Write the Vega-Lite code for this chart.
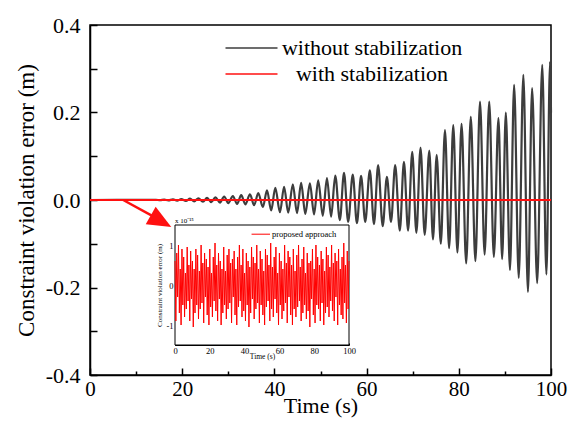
{
  "$schema": "https://vega.github.io/schema/vega-lite/v6.json",
  "width": 461,
  "height": 350,
  "autosize": "none",
  "padding": {"left": 90, "top": 25, "right": 18, "bottom": 46},
  "background": "white",
  "datasets": {
    "unstab": [
      {"t":0,"v":0},{"t":14.3,"v":0.0005},{"t":15.2,"v":-0.0005},{"t":16.1,"v":0.001},{"t":17.0,"v":-0.001},
      {"t":18.0,"v":0.0015},{"t":18.9,"v":-0.0015},{"t":19.8,"v":0.002},{"t":20.8,"v":-0.002},{"t":21.7,"v":0.003},
      {"t":22.6,"v":-0.003},{"t":23.5,"v":0.004},{"t":24.5,"v":-0.004},{"t":25.4,"v":0.005},{"t":26.3,"v":-0.005},
      {"t":27.2,"v":0.006},{"t":28.2,"v":-0.006},{"t":29.1,"v":0.008},{"t":30.0,"v":-0.007},{"t":31.0,"v":0.009},
      {"t":31.9,"v":-0.009},{"t":32.8,"v":0.011},{"t":33.7,"v":-0.01},{"t":34.7,"v":0.013},{"t":35.6,"v":-0.012},
      {"t":36.5,"v":0.016},{"t":37.5,"v":-0.016},{"t":38.4,"v":0.022},{"t":39.3,"v":-0.024},{"t":40.2,"v":0.028},
      {"t":41.2,"v":-0.028},{"t":42.1,"v":0.03},{"t":43.0,"v":-0.029},{"t":44.0,"v":0.036},{"t":44.9,"v":-0.03},
      {"t":45.8,"v":0.039},{"t":46.7,"v":-0.032},{"t":47.7,"v":0.038},{"t":48.6,"v":-0.033},{"t":49.5,"v":0.045},
      {"t":50.5,"v":-0.036},{"t":51.4,"v":0.05},{"t":52.3,"v":-0.038},{"t":53.2,"v":0.056},{"t":54.2,"v":-0.046},
      {"t":55.1,"v":0.062},{"t":56.0,"v":-0.05},{"t":57.0,"v":0.058},{"t":57.9,"v":-0.053},{"t":58.8,"v":0.055},
      {"t":59.7,"v":-0.05},{"t":60.7,"v":0.068},{"t":61.6,"v":-0.055},{"t":62.5,"v":0.08},{"t":63.5,"v":-0.06},
      {"t":64.4,"v":0.053},{"t":65.3,"v":-0.05},{"t":66.2,"v":0.08},{"t":67.2,"v":-0.07},{"t":68.1,"v":0.087},
      {"t":69.0,"v":-0.07},{"t":69.9,"v":0.11},{"t":70.8,"v":-0.075},{"t":71.7,"v":0.12},{"t":72.6,"v":-0.08},
      {"t":73.6,"v":0.113},{"t":74.4,"v":-0.09},{"t":75.2,"v":0.103},{"t":76.1,"v":-0.1},{"t":77.0,"v":0.16},
      {"t":77.9,"v":-0.11},{"t":78.8,"v":0.171},{"t":79.7,"v":-0.12},{"t":80.6,"v":0.174},{"t":81.6,"v":-0.145},
      {"t":82.6,"v":0.19},{"t":83.6,"v":-0.14},{"t":84.6,"v":0.225},{"t":85.6,"v":-0.125},{"t":86.6,"v":0.225},
      {"t":87.6,"v":-0.13},{"t":88.6,"v":0.187},{"t":89.4,"v":-0.135},{"t":90.2,"v":0.2},{"t":91.1,"v":-0.16},
      {"t":92.0,"v":0.263},{"t":93.0,"v":-0.178},{"t":94.0,"v":0.286},{"t":95.0,"v":-0.21},{"t":95.9,"v":0.256},
      {"t":97.0,"v":-0.19},{"t":98.1,"v":0.309},{"t":99.0,"v":-0.17},{"t":99.8,"v":0.316},{"t":100,"v":0.2}
    ],
    "stab": [{"t":0,"v":0},{"t":100,"v":0}],
    "noise": [
      {"t":0,"e":0.6},{"t":0.5,"e":-0.9},{"t":1,"e":0.8},{"t":1.5,"e":-0.3},{"t":2,"e":1.0},{"t":2.5,"e":-0.7},{"t":3,"e":0.4},{"t":3.5,"e":-1.0},{"t":4,"e":0.9},{"t":4.5,"e":-0.5},
      {"t":5,"e":0.7},{"t":5.5,"e":-0.8},{"t":6,"e":0.3},{"t":6.5,"e":-0.6},{"t":7,"e":0.95},{"t":7.5,"e":-0.4},{"t":8,"e":0.5},{"t":8.5,"e":-0.9},{"t":9,"e":0.85},{"t":9.5,"e":-0.35},
      {"t":10,"e":0.6},{"t":10.5,"e":-1.05},{"t":11,"e":0.4},{"t":11.5,"e":-0.7},{"t":12,"e":0.9},{"t":12.5,"e":-0.5},{"t":13,"e":0.75},{"t":13.5,"e":-0.85},{"t":14,"e":0.35},{"t":14.5,"e":-0.6},
      {"t":15,"e":1.0},{"t":15.5,"e":-0.45},{"t":16,"e":0.55},{"t":16.5,"e":-0.95},{"t":17,"e":0.8},{"t":17.5,"e":-0.3},{"t":18,"e":0.65},{"t":18.5,"e":-0.75},{"t":19,"e":0.45},{"t":19.5,"e":-1.0},
      {"t":20,"e":0.9},{"t":20.5,"e":-0.55},{"t":21,"e":0.3},{"t":21.5,"e":-0.8},{"t":22,"e":0.7},{"t":22.5,"e":-0.4},{"t":23,"e":1.05},{"t":23.5,"e":-0.65},{"t":24,"e":0.5},{"t":24.5,"e":-0.9},
      {"t":25,"e":0.8},{"t":25.5,"e":-0.35},{"t":26,"e":0.6},{"t":26.5,"e":-1.0},{"t":27,"e":0.4},{"t":27.5,"e":-0.7},{"t":28,"e":0.95},{"t":28.5,"e":-0.5},{"t":29,"e":0.35},{"t":29.5,"e":-0.85},
      {"t":30,"e":0.75},{"t":30.5,"e":-0.6},{"t":31,"e":0.9},{"t":31.5,"e":-0.45},{"t":32,"e":0.55},{"t":32.5,"e":-0.95},{"t":33,"e":0.65},{"t":33.5,"e":-0.3},{"t":34,"e":0.85},{"t":34.5,"e":-0.75},
      {"t":35,"e":0.4},{"t":35.5,"e":-1.0},{"t":36,"e":0.7},{"t":36.5,"e":-0.55},{"t":37,"e":1.0},{"t":37.5,"e":-0.4},{"t":38,"e":0.5},{"t":38.5,"e":-0.8},{"t":39,"e":0.9},{"t":39.5,"e":-0.65},
      {"t":40,"e":0.3},{"t":40.5,"e":-0.9},{"t":41,"e":0.8},{"t":41.5,"e":-0.5},{"t":42,"e":0.6},{"t":42.5,"e":-1.05},{"t":43,"e":0.45},{"t":43.5,"e":-0.7},{"t":44,"e":0.95},{"t":44.5,"e":-0.35},
      {"t":45,"e":0.7},{"t":45.5,"e":-0.85},{"t":46,"e":0.55},{"t":46.5,"e":-0.6},{"t":47,"e":1.0},{"t":47.5,"e":-0.45},{"t":48,"e":0.4},{"t":48.5,"e":-0.95},{"t":49,"e":0.85},{"t":49.5,"e":-0.5},
      {"t":50,"e":0.65},{"t":50.5,"e":-0.75},{"t":51,"e":0.35},{"t":51.5,"e":-1.0},{"t":52,"e":0.9},{"t":52.5,"e":-0.55},{"t":53,"e":0.75},{"t":53.5,"e":-0.4},{"t":54,"e":0.5},{"t":54.5,"e":-0.9},
      {"t":55,"e":1.05},{"t":55.5,"e":-0.6},{"t":56,"e":0.45},{"t":56.5,"e":-0.8},{"t":57,"e":0.7},{"t":57.5,"e":-0.35},{"t":58,"e":0.95},{"t":58.5,"e":-0.7},{"t":59,"e":0.3},{"t":59.5,"e":-1.0},
      {"t":60,"e":0.8},{"t":60.5,"e":-0.5},{"t":61,"e":0.6},{"t":61.5,"e":-0.85},{"t":62,"e":0.4},{"t":62.5,"e":-0.65},{"t":63,"e":1.0},{"t":63.5,"e":-0.45},{"t":64,"e":0.55},{"t":64.5,"e":-0.95},
      {"t":65,"e":0.85},{"t":65.5,"e":-0.3},{"t":66,"e":0.7},{"t":66.5,"e":-0.75},{"t":67,"e":0.5},{"t":67.5,"e":-1.0},{"t":68,"e":0.9},{"t":68.5,"e":-0.6},{"t":69,"e":0.35},{"t":69.5,"e":-0.8},
      {"t":70,"e":0.75},{"t":70.5,"e":-0.55},{"t":71,"e":1.0},{"t":71.5,"e":-0.4},{"t":72,"e":0.45},{"t":72.5,"e":-0.9},{"t":73,"e":0.65},{"t":73.5,"e":-0.7},{"t":74,"e":0.95},{"t":74.5,"e":-0.5},
      {"t":75,"e":0.3},{"t":75.5,"e":-0.85},{"t":76,"e":0.8},{"t":76.5,"e":-0.65},{"t":77,"e":0.55},{"t":77.5,"e":-1.05},{"t":78,"e":0.6},{"t":78.5,"e":-0.35},{"t":79,"e":0.9},{"t":79.5,"e":-0.75},
      {"t":80,"e":0.4},{"t":80.5,"e":-0.95},{"t":81,"e":1.0},{"t":81.5,"e":-0.5},{"t":82,"e":0.7},{"t":82.5,"e":-0.6},{"t":83,"e":0.5},{"t":83.5,"e":-0.9},{"t":84,"e":0.85},{"t":84.5,"e":-0.45},
      {"t":85,"e":0.65},{"t":85.5,"e":-1.0},{"t":86,"e":0.35},{"t":86.5,"e":-0.7},{"t":87,"e":0.95},{"t":87.5,"e":-0.55},{"t":88,"e":0.75},{"t":88.5,"e":-0.8},{"t":89,"e":0.45},{"t":89.5,"e":-0.4},
      {"t":90,"e":1.0},{"t":90.5,"e":-0.65},{"t":91,"e":0.55},{"t":91.5,"e":-0.9},{"t":92,"e":0.8},{"t":92.5,"e":-0.3},{"t":93,"e":0.6},{"t":93.5,"e":-1.0},{"t":94,"e":0.9},{"t":94.5,"e":-0.5},
      {"t":95,"e":0.4},{"t":95.5,"e":-0.75},{"t":96,"e":0.7},{"t":96.5,"e":-0.85},{"t":97,"e":1.05},{"t":97.5,"e":-0.45},{"t":98,"e":0.5},{"t":98.5,"e":-0.95},{"t":99,"e":0.85},{"t":99.5,"e":-0.6},
      {"t":100,"e":0.6}
    ]
  },
  "layer": [
    {
      "layer": [
        {
          "data": {"name": "unstab"},
          "mark": {"type": "line", "interpolate": "monotone", "strokeWidth": 2.2},
          "encoding": {
            "x": {
              "field": "t", "type": "quantitative",
              "scale": {"domain": [0, 100], "nice": false},
              "axis": {
                "orient": "bottom",
                "title": "Time (s)",
                "values": [0,10,20,30,40,50,60,70,80,90,100],
                "labelExpr": "datum.value % 20 == 0 ? datum.label : ''",
                "labelFlush": false,
                "tickSize": {"condition": {"test": "datum.value % 20 == 0", "value": -7}, "value": -4},
                "tickWidth": 1.5,
                "labelPadding": 10,
                "labelFontSize": 21,
                "titleFontSize": 22,
                "titlePadding": -4,
                "domainWidth": 1.5
              }
            },
            "y": {
              "field": "v", "type": "quantitative",
              "scale": {"domain": [-0.4, 0.4], "nice": false},
              "axis": {
                "orient": "left",
                "title": "Constraint violation error (m)",
                "values": [-0.4,-0.3,-0.2,-0.1,0,0.1,0.2,0.3,0.4],
                "labelExpr": "abs(round(datum.value*10)) % 2 == 0 ? replace(format(datum.value, '.1f'), '\u2212', '-') : ''",
                "labelFlush": false,
                "tickSize": -7,
                "tickWidth": 1.5,
                "labelPadding": 17,
                "labelFontSize": 22,
                "titleFontSize": 23,
                "titlePadding": 7,
                "domainWidth": 1.5
              }
            },
            "color": {
              "datum": "without stabilization",
              "type": "nominal",
              "scale": {"domain": ["without stabilization", "with stabilization"], "range": ["#3d3d3d", "#ff1010"]},
              "legend": {
                "orient": "none", "legendX": 150.5, "legendY": 12,
                "title": null,
                "symbolType": "M-4,0H4", "symbolSize": 169, "symbolStrokeWidth": 1.5,
                "labelFont": "Liberation Serif", "labelFontSize": 22, "labelColor": "black",
                "labelAlign": "center", "labelLimit": 500,
                "labelOffset": 109.5, "rowPadding": 4
              }
            }
          }
        },
        {
          "data": {"name": "stab"},
          "mark": {"type": "line", "strokeWidth": 1.8},
          "encoding": {
            "x": {"field": "t", "type": "quantitative"},
            "y": {"field": "v", "type": "quantitative"},
            "color": {"datum": "with stabilization", "type": "nominal"}
          }
        },
        {
          "data": {"values": [{}]},
          "mark": {"type": "rule", "color": "#ff1010", "strokeWidth": 2.5},
          "encoding": {
            "x": {"datum": 7.2, "type": "quantitative"},
            "y": {"datum": 0, "type": "quantitative"},
            "x2": {"datum": 14.0},
            "y2": {"datum": -0.039}
          }
        },
        {
          "data": {"values": [{}]},
          "mark": {"type": "point", "shape": "M1,0L-1,-0.85L-1,0.85Z", "filled": true, "color": "#ff1010", "size": 560, "angle": 29.5, "opacity": 1, "strokeWidth": 0},
          "encoding": {
            "x": {"datum": 15.4, "type": "quantitative"},
            "y": {"datum": -0.0485, "type": "quantitative"}
          }
        }
      ]
    },
    {
      "layer": [
        {
          "data": {"values": [{}]},
          "mark": {"type": "rect", "fill": "white", "stroke": "black", "strokeWidth": 1},
          "encoding": {
            "x": {
              "datum": 0, "type": "quantitative",
              "scale": {"domain": [0, 100], "range": [85, 259], "nice": false},
              "axis": {
                "orient": "bottom", "offset": -30,
                "title": "Time (s)",
                "values": [0,10,20,30,40,50,60,70,80,90,100],
                "labelExpr": "datum.value % 20 == 0 ? datum.label : ''",
                "labelFlush": false,
                "tickSize": -2, "tickWidth": 1,
                "labelPadding": 3,
                "labelFontSize": 8.5,
                "titleFontSize": 7.5,
                "titlePadding": -2,
                "domainWidth": 1
              }
            },
            "x2": {"datum": 100},
            "y": {
              "datum": -1.5, "type": "quantitative",
              "scale": {"domain": [-1.5, 1.5], "range": [320, 200], "nice": false},
              "axis": {
                "orient": "left", "offset": -85,
                "title": "Constraint violation error (m)",
                "values": [-1, 0, 1],
                "labelExpr": "replace(format(datum.value, 'd'), '\u2212', '-')",
                "labelFlush": false,
                "tickSize": -2, "tickWidth": 1,
                "labelPadding": 4,
                "labelFontSize": 8.5,
                "titleFontSize": 7,
                "titlePadding": 3,
                "domainWidth": 1
              }
            },
            "y2": {"datum": 1.5}
          }
        },
        {
          "data": {"name": "noise"},
          "mark": {"type": "line", "color": "#ff0000", "strokeWidth": 1},
          "encoding": {
            "x": {"field": "t", "type": "quantitative"},
            "y": {"field": "e", "type": "quantitative"}
          }
        },
        {
          "data": {"values": [{}]},
          "mark": {"type": "rule", "color": "#ff0000", "strokeWidth": 1},
          "encoding": {
            "x": {"datum": 44, "type": "quantitative"},
            "x2": {"datum": 54.6},
            "y": {"datum": 1.27, "type": "quantitative"}
          }
        },
        {
          "data": {"values": [{}]},
          "mark": {"type": "text", "text": "proposed approach", "align": "left", "baseline": "middle", "font": "Liberation Serif", "fontSize": 8.5, "color": "black"},
          "encoding": {
            "x": {"datum": 55.7, "type": "quantitative"},
            "y": {"datum": 1.27, "type": "quantitative"}
          }
        },
        {
          "data": {"values": [{}]},
          "mark": {"type": "text", "text": "x 10⁻¹⁵", "align": "left", "baseline": "bottom", "dy": -1, "font": "Liberation Serif", "fontSize": 7, "color": "black"},
          "encoding": {
            "x": {"datum": 0, "type": "quantitative"},
            "y": {"datum": 1.5, "type": "quantitative"}
          }
        }
      ]
    }
  ],
  "resolve": {"scale": {"x": "independent", "y": "independent"}},
  "config": {
    "view": {"stroke": "black", "strokeWidth": 1.5},
    "axis": {
      "grid": false,
      "domainColor": "black",
      "tickColor": "black",
      "labelColor": "black",
      "titleColor": "black",
      "labelFont": "Liberation Serif",
      "titleFont": "Liberation Serif",
      "titleFontWeight": "normal"
    }
  }
}
